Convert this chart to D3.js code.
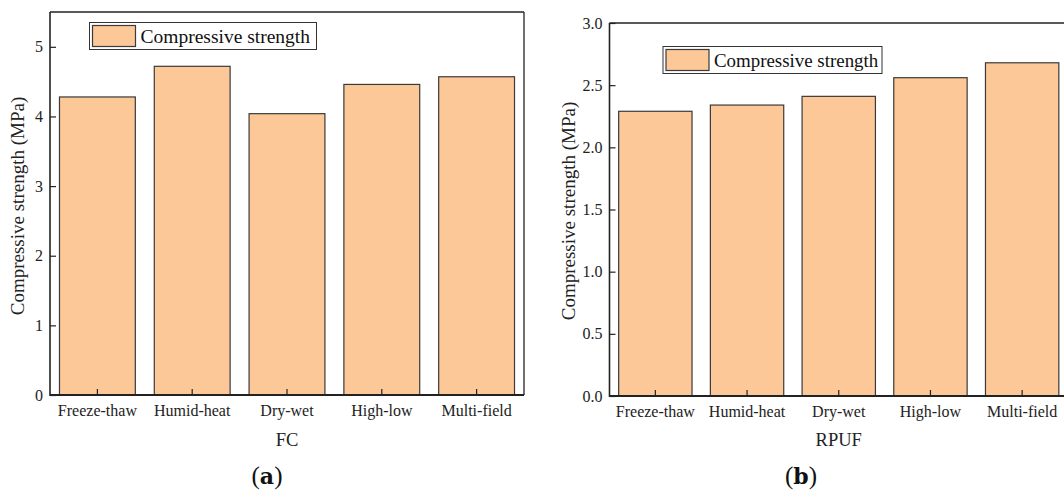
<!DOCTYPE html>
<html>
<head>
<meta charset="utf-8">
<script src="https://cdn.jsdelivr.net/npm/d3@7"></script>
<style>
  html, body { margin: 0; padding: 0; background: #fff; }
  svg { display: block; font-family: "Liberation Serif", "Times New Roman", serif; }
</style>
</head>
<body>
<svg id="chart" width="1064" height="491"></svg>
<script>
// Treatment conditions shared by both panels
const conditions = ["Freeze-thaw", "Humid-heat", "Dry-wet", "High-low", "Multi-field"];

// Compressive strength (MPa) of foamed concrete after each condition
const fcStrength = [4.28, 4.72, 4.04, 4.46, 4.57];
// Compressive strength (MPa) of rigid polyurethane foam after each condition
const rpufStrength = [2.29, 2.34, 2.41, 2.56, 2.68];

// Y-axis tick values
const fcTicks = [0, 1, 2, 3, 4, 5];
const rpufTicks = [0, 0.5, 1.0, 1.5, 2.0, 2.5, 3.0];

const seriesName = "Compressive strength";
const yTitle = "Compressive strength (MPa)";

const barFill = "#fcc898";
const barStroke = "#3a3a3a";

const svg = d3.select("#chart");

function drawPanel(opts) {
  const g = svg.append("g");
  const x = d3.scaleBand()
    .domain(conditions)
    .range([opts.left, opts.right])
    .paddingInner(0.2)
    .paddingOuter(0.1);
  const y = d3.scaleLinear()
    .domain([0, opts.yMax])
    .range([opts.bottom, opts.top]);

  // bars
  g.selectAll("rect.bar")
    .data(opts.values)
    .join("rect")
    .attr("class", "bar")
    .attr("x", (d, i) => x(conditions[i]))
    .attr("y", d => y(d))
    .attr("width", x.bandwidth())
    .attr("height", d => y(0) - y(d))
    .attr("fill", barFill)
    .attr("stroke", barStroke)
    .attr("stroke-width", 1.2);

  // frame: top and right edges
  g.append("line")
    .attr("x1", opts.left).attr("x2", opts.right)
    .attr("y1", opts.top).attr("y2", opts.top)
    .attr("stroke", "#222").attr("stroke-width", 1.3);
  g.append("line")
    .attr("x1", opts.right).attr("x2", opts.right)
    .attr("y1", opts.top).attr("y2", opts.bottom)
    .attr("stroke", "#222").attr("stroke-width", 1.3);

  // y axis with inward ticks
  const yAxis = d3.axisLeft(y)
    .tickValues(opts.ticks)
    .tickSize(-6)
    .tickPadding(7)
    .tickFormat(opts.fmt);
  const ya = g.append("g")
    .attr("transform", `translate(${opts.left},0)`)
    .call(yAxis);
  ya.select(".domain").attr("stroke", "#222").attr("stroke-width", 1.6)
    .attr("d", `M0,${opts.bottom + 1}V${opts.top}`);
  ya.selectAll(".tick line").attr("stroke", "#222").attr("stroke-width", 1.2);
  ya.selectAll(".tick text")
    .attr("font-family", "Liberation Serif")
    .attr("font-size", 16)
    .attr("fill", "#222");

  // x axis with inward ticks
  const xAxis = d3.axisBottom(x).tickSize(-6).tickPadding(10);
  const xa = g.append("g")
    .attr("transform", `translate(0,${opts.bottom})`)
    .call(xAxis);
  xa.select(".domain").attr("stroke", "#222").attr("stroke-width", 2)
    .attr("d", `M${opts.left},0H${opts.right}`);
  xa.selectAll(".tick line").attr("stroke", "#222").attr("stroke-width", 1.2);
  xa.selectAll(".tick text")
    .attr("font-family", "Liberation Serif")
    .attr("font-size", 16)
    .attr("fill", "#222");

  // axis titles
  g.append("text")
    .attr("transform", `translate(${opts.yTitleX},${opts.yTitleY}) rotate(-90)`)
    .attr("text-anchor", "middle")
    .attr("font-size", 19)
    .attr("fill", "#222")
    .text(yTitle);
  g.append("text")
    .attr("x", (opts.left + opts.right) / 2)
    .attr("y", 446)
    .attr("text-anchor", "middle")
    .attr("font-size", 18.5)
    .attr("fill", "#222")
    .text(opts.xTitle);

  // legend
  const lg = g.append("g").attr("transform", `translate(${opts.legendX},${opts.legendY})`);
  lg.append("rect")
    .attr("x", 0).attr("y", 0)
    .attr("width", opts.legendW).attr("height", 27)
    .attr("fill", "#fff").attr("stroke", "#333").attr("stroke-width", 1);
  lg.append("rect")
    .attr("x", 3).attr("y", 3)
    .attr("width", 43).attr("height", 21)
    .attr("fill", barFill).attr("stroke", barStroke).attr("stroke-width", 1.2);
  lg.append("text")
    .attr("x", 51).attr("y", 20.5)
    .attr("font-size", opts.legendFont)
    .attr("fill", "#111")
    .text(seriesName);

  // panel label
  const pl = svg.append("text")
    .attr("x", opts.labelX)
    .attr("y", 484)
    .attr("text-anchor", "middle")
    .attr("font-size", 25)
    .attr("fill", "#111");
  pl.append("tspan").text("(");
  pl.append("tspan").attr("font-weight", "bold").attr("font-family", "DejaVu Serif, Liberation Serif").attr("font-size", 22).text(opts.label);
  pl.append("tspan").text(")");
}

drawPanel({
  values: fcStrength, ticks: fcTicks, yMax: 5.5, fmt: d3.format("d"),
  left: 50, right: 524, top: 12, bottom: 395,
  yTitleX: 24, yTitleY: 206, xTitle: "FC",
  legendX: 89.5, legendY: 22.5, legendW: 227, legendFont: 19.5,
  label: "a", labelX: 267
});

drawPanel({
  values: rpufStrength, ticks: rpufTicks, yMax: 3.0, fmt: d3.format(".1f"),
  left: 609.5, right: 1068, top: 23, bottom: 396,
  yTitleX: 575, yTitleY: 211, xTitle: "RPUF",
  legendX: 663, legendY: 46.5, legendW: 219, legendFont: 18.9,
  label: "b", labelX: 801
});
</script>
</body>
</html>
